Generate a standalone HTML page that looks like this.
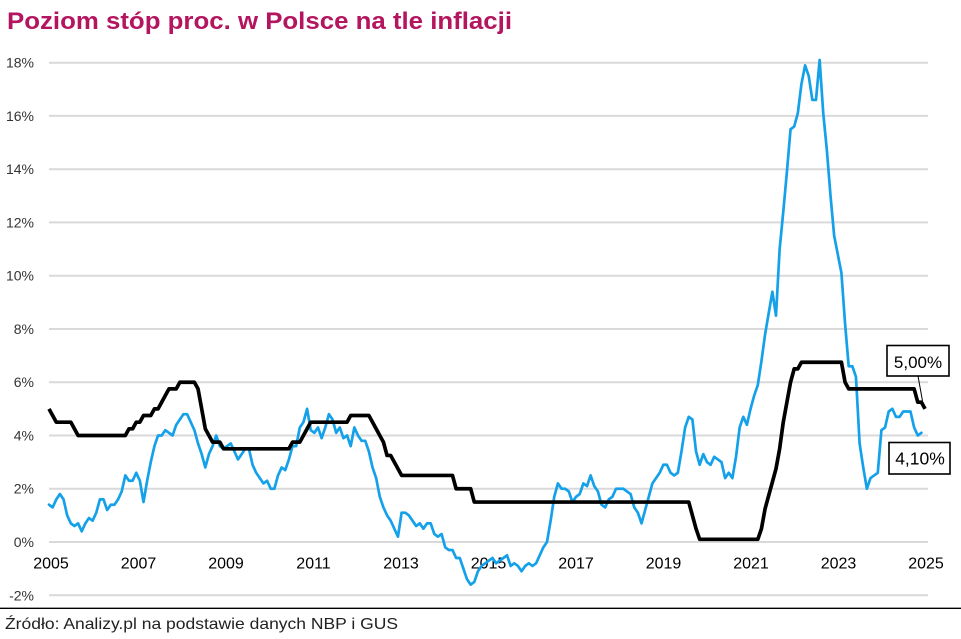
<!DOCTYPE html>
<html>
<head>
<meta charset="utf-8">
<style>
  html, body { margin: 0; padding: 0; background: #ffffff; }
  body { width: 961px; height: 639px; overflow: hidden; }
  svg { display: block; }
  .yl { font-family: "Liberation Sans", Arial, sans-serif; font-size: 14px; fill: #333333; }
  .xl { font-family: "Liberation Sans", Arial, sans-serif; font-size: 16px; fill: #000000; }
</style>
</head>
<body>
<svg width="961" height="639" viewBox="0 0 961 639" xmlns="http://www.w3.org/2000/svg">
  <rect x="0" y="0" width="961" height="639" fill="#ffffff"/>

  <!-- Title -->
  <text x="7" y="29" font-family="Liberation Sans, Arial, sans-serif" font-size="24" font-weight="bold" fill="#b4155f" textLength="505" lengthAdjust="spacingAndGlyphs">Poziom stóp proc. w Polsce na tle inflacji</text>

  <!-- Gridlines -->
  <g stroke="#d9d9d9" stroke-width="2">
    <line x1="49" y1="62.7" x2="928" y2="62.7"/>
    <line x1="49" y1="115.9" x2="928" y2="115.9"/>
    <line x1="49" y1="169.2" x2="928" y2="169.2"/>
    <line x1="49" y1="222.4" x2="928" y2="222.4"/>
    <line x1="49" y1="275.7" x2="928" y2="275.7"/>
    <line x1="49" y1="329" x2="928" y2="329"/>
    <line x1="49" y1="382.2" x2="928" y2="382.2"/>
    <line x1="49" y1="435.5" x2="928" y2="435.5"/>
    <line x1="49" y1="488.7" x2="928" y2="488.7"/>
    <line x1="49" y1="542" x2="928" y2="542"/>
    <line x1="49" y1="595.3" x2="928" y2="595.3"/>
  </g>

  <!-- Y labels -->
  <g class="yl" text-anchor="end">
    <text x="34" y="67.7">18%</text>
    <text x="34" y="120.9">16%</text>
    <text x="34" y="174.2">14%</text>
    <text x="34" y="227.4">12%</text>
    <text x="34" y="280.7">10%</text>
    <text x="34" y="334">8%</text>
    <text x="34" y="387.2">6%</text>
    <text x="34" y="440.5">4%</text>
    <text x="34" y="493.7">2%</text>
    <text x="34" y="547">0%</text>
    <text x="34" y="600.3">-2%</text>
  </g>

  <!-- X labels -->
  <g class="xl" text-anchor="middle">
    <text x="51" y="568.5">2005</text>
    <text x="138.5" y="568.5">2007</text>
    <text x="226" y="568.5">2009</text>
    <text x="313.5" y="568.5">2011</text>
    <text x="401" y="568.5">2013</text>
    <text x="488.5" y="568.5">2015</text>
    <text x="576" y="568.5">2017</text>
    <text x="663.5" y="568.5">2019</text>
    <text x="751" y="568.5">2021</text>
    <text x="838.5" y="568.5">2023</text>
    <text x="926" y="568.5">2025</text>
  </g>

  <!-- Series (data units: x = month index from Jun 2005, y = percent) -->
  <g transform="matrix(3.635 0 0 -26.63 49 542)">
    <polyline fill="none" stroke="#14a1ea" stroke-width="2.7" stroke-linejoin="round" stroke-linecap="round" vector-effect="non-scaling-stroke"
      points="0,1.4 1,1.3 2,1.6 3,1.8 4,1.6 5,1.0 6,0.7 7,0.6 8,0.7 9,0.4 10,0.7 11,0.9 12,0.8 13,1.1 14,1.6 15,1.6 16,1.2 17,1.4 18,1.4 19,1.6 20,1.9 21,2.5 22,2.3 23,2.3 24,2.6 25,2.3 26,1.5 27,2.3 28,3.0 29,3.6 30,4.0 31,4.0 32,4.2 33,4.1 34,4.0 35,4.4 36,4.6 37,4.8 38,4.8 39,4.5 40,4.2 41,3.7 42,3.3 43,2.8 44,3.3 45,3.6 46,4.0 47,3.6 48,3.5 49,3.6 50,3.7 51,3.4 52,3.1 53,3.3 54,3.5 55,3.5 56,2.9 57,2.6 58,2.4 59,2.2 60,2.3 61,2.0 62,2.0 63,2.5 64,2.8 65,2.7 66,3.1 67,3.6 68,3.6 69,4.3 70,4.5 71,5.0 72,4.2 73,4.1 74,4.3 75,3.9 76,4.3 77,4.8 78,4.6 79,4.1 80,4.3 81,3.9 82,4.0 83,3.6 84,4.3 85,4.0 86,3.8 87,3.8 88,3.4 89,2.8 90,2.4 91,1.7 92,1.3 93,1.0 94,0.8 95,0.5 96,0.2 97,1.1 98,1.1 99,1.0 100,0.8 101,0.6 102,0.7 103,0.5 104,0.7 105,0.7 106,0.3 107,0.2 108,0.3 109,-0.2 110,-0.3 111,-0.3 112,-0.6 113,-0.6 114,-1.0 115,-1.4 116,-1.6 117,-1.5 118,-1.1 119,-0.9 120,-0.8 121,-0.7 122,-0.6 123,-0.8 124,-0.7 125,-0.6 126,-0.5 127,-0.9 128,-0.8 129,-0.9 130,-1.1 131,-0.9 132,-0.8 133,-0.9 134,-0.8 135,-0.5 136,-0.2 137,0.0 138,0.8 139,1.7 140,2.2 141,2.0 142,2.0 143,1.9 144,1.5 145,1.7 146,1.8 147,2.2 148,2.1 149,2.5 150,2.1 151,1.9 152,1.4 153,1.3 154,1.6 155,1.7 156,2.0 157,2.0 158,2.0 159,1.9 160,1.8 161,1.3 162,1.1 163,0.7 164,1.2 165,1.7 166,2.2 167,2.4 168,2.6 169,2.9 170,2.9 171,2.6 172,2.5 173,2.6 174,3.4 175,4.3 176,4.7 177,4.6 178,3.4 179,2.9 180,3.3 181,3.0 182,2.9 183,3.2 184,3.1 185,3.0 186,2.4 187,2.6 188,2.4 189,3.2 190,4.3 191,4.7 192,4.4 193,5.0 194,5.5 195,5.9 196,6.8 197,7.8 198,8.6 199,9.4 200,8.5 201,11.0 202,12.4 203,13.9 204,15.5 205,15.6 206,16.1 207,17.2 208,17.9 209,17.5 210,16.6 211,16.6 212,18.1 213,16.1 214,14.7 215,13.0 216,11.5 217,10.8 218,10.1 219,8.2 220,6.6 221,6.6 222,6.2 223,3.7 224,2.8 225,2.0 226,2.4 227,2.5 228,2.6 229,4.2 230,4.3 231,4.9 232,5.0 233,4.7 234,4.7 235,4.9 236,4.9 237,4.9 238,4.3 239,4.0 240,4.1"/>
    <polyline fill="none" stroke="#000000" stroke-width="3.7" stroke-linejoin="round" stroke-linecap="butt" vector-effect="non-scaling-stroke"
      points="0,5 1,4.75 2,4.5 6,4.5 7,4.25 8,4 21,4 22,4.25 23,4.25 24,4.5 25,4.5 26,4.75 28,4.75 29,5 30,5 31,5.25 32,5.5 33,5.75 35,5.75 36,6 40,6 41,5.75 42,5 43,4.25 44,4 45,3.75 47,3.75 48,3.5 66,3.5 67,3.75 69,3.75 70,4 71,4.25 72,4.5 82,4.5 83,4.75 88,4.75 89,4.5 90,4.25 91,4 92,3.75 93,3.25 94,3.25 95,3 96,2.75 97,2.5 111,2.5 112,2 116,2 117,1.5 176,1.5 177,1 178,0.5 179,0.1 195,0.1 196,0.5 197,1.25 198,1.75 199,2.25 200,2.75 201,3.5 202,4.5 203,5.25 204,6 205,6.5 206,6.5 207,6.75 218,6.75 219,6 220,5.75 238,5.75 239,5.25 240,5.25 241,5"/>
  </g>

  <!-- Callouts -->
  <line x1="918" y1="376" x2="922.5" y2="401" stroke="#000" stroke-width="1"/>
  <rect x="887" y="345.5" width="62" height="30.5" fill="#ffffff" stroke="#000000" stroke-width="1.6"/>
  <text x="918" y="368" text-anchor="middle" font-family="Liberation Sans, Arial, sans-serif" font-size="17" fill="#000">5,00%</text>

  <rect x="889" y="442.5" width="61" height="31.5" fill="#ffffff" stroke="#000000" stroke-width="1.6"/>
  <text x="920" y="464.5" text-anchor="middle" font-family="Liberation Sans, Arial, sans-serif" font-size="17.5" fill="#000">4,10%</text>

  <!-- Separator & source -->
  <line x1="0" y1="608.3" x2="961" y2="608.3" stroke="#000000" stroke-width="1.3"/>
  <text x="5" y="629" font-family="Liberation Sans, Arial, sans-serif" font-size="16" fill="#222222" textLength="393" lengthAdjust="spacingAndGlyphs">Źródło: Analizy.pl na podstawie danych NBP i GUS</text>
</svg>
</body>
</html>
